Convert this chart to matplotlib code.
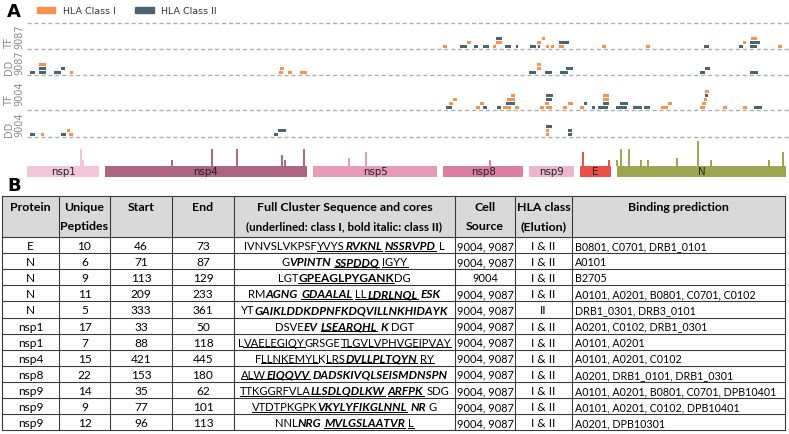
# Figure: peptide clusters along SARS-CoV-2 proteins (A) + cluster table (B)
import matplotlib.pyplot as plt
from matplotlib.patches import Patch, Rectangle

plt.rcParams['font.family'] = 'DejaVu Sans'

W, H = 789, 435
orange = '#f6944f'
slate = '#4a6472'

# %%
# Panel A data: clusters per track as (start, end, stack level, HLA class)
track_labels = ['TF\n9087', 'DD\n9087', 'TF\n9004', 'DD\n9004']

tf9087 = [(443, 447, 0, 1), (460, 467, 0, 2), (474, 478, 0, 2), (483, 489, 0, 2),
          (493, 496, 0, 1), (505, 511, 0, 2), (516, 518, 0, 2), (530, 536, 0, 2),
          (538, 540, 0, 2), (546, 549, 0, 1), (551, 554, 0, 1), (559, 564, 0, 1),
          (602, 606, 0, 1), (646, 650, 0, 1), (704, 709, 0, 2), (739, 743, 0, 2),
          (750, 757, 0, 2), (778, 782, 0, 1),
          (467, 471, 1, 1), (496, 502, 1, 1), (537, 541, 1, 1), (559, 569, 1, 2),
          (743, 746, 1, 1), (750, 760, 1, 2),
          (496, 502, 2, 2), (542, 545, 2, 1), (751, 757, 2, 1)]

dd9087 = [(30, 35, 0, 2), (39, 46, 0, 2), (54, 61, 0, 2), (70, 73, 0, 1),
          (279, 283, 0, 1), (288, 292, 0, 1), (300, 307, 0, 1), (529, 536, 0, 2),
          (545, 552, 0, 2), (560, 568, 0, 2), (700, 705, 0, 2), (750, 758, 0, 2),
          (39, 46, 1, 2), (61, 65, 1, 2), (280, 284, 1, 1), (537, 541, 1, 1),
          (566, 573, 1, 2), (705, 710, 1, 2),
          (39, 46, 2, 1), (537, 541, 2, 1)]

tf9004 = [(446, 452, 0, 2), (476, 480, 0, 1), (483, 487, 0, 2), (497, 501, 0, 2),
          (503, 511, 0, 1), (515, 519, 0, 1), (540, 544, 0, 1), (546, 552, 0, 1),
          (563, 567, 0, 1), (580, 584, 0, 1), (592, 595, 0, 2), (598, 608, 0, 2),
          (616, 627, 0, 2), (633, 642, 0, 2), (644, 650, 0, 2), (661, 668, 0, 1),
          (700, 705, 0, 1), (723, 727, 0, 1), (743, 747, 0, 1), (754, 762, 0, 2),
          (449, 453, 1, 1), (480, 484, 1, 1), (506, 515, 1, 2), (545, 549, 1, 1),
          (568, 573, 1, 1), (584, 587, 1, 2), (603, 609, 1, 2), (620, 628, 1, 2),
          (668, 672, 1, 1), (702, 706, 1, 1),
          (453, 457, 2, 1), (507, 515, 2, 1), (546, 552, 2, 2), (603, 609, 2, 1),
          (704, 707, 2, 1),
          (511, 515, 3, 1), (546, 553, 3, 2), (603, 609, 3, 1), (705, 708, 3, 2),
          (705, 709, 4, 1)]

dd9004 = [(30, 35, 0, 2), (41, 44, 0, 1), (61, 66, 0, 2), (69, 73, 0, 1),
          (274, 278, 0, 2), (546, 549, 0, 1), (568, 572, 0, 2),
          (67, 70, 1, 1), (278, 286, 1, 2), (546, 549, 1, 1), (568, 572, 1, 2),
          (546, 552, 2, 2)]

tracks = [tf9087, dd9087, tf9004, dd9004]

# protein blocks along the same axis and the hit counts (spikes)
prot_names = ['nsp1', 'nsp4', 'nsp5', 'nsp8', 'nsp9', 'E', 'N']
prot_start = [27, 105, 313, 443, 529, 580, 617]
prot_end = [99, 307, 437, 523, 574, 611, 786]
prot_colors = ['#f2c6d6', '#ad6580', '#e59bb6', '#db7fa1', '#ecb6cc', '#e8504a', '#9ba650']
spike_pos = [81, 83, 172, 212, 237, 282, 285, 304, 349, 366, 490, 583, 609,
             617, 621, 629, 641, 648, 677, 698, 711, 769, 783]
spike_cnt = [6, 2, 2, 6, 6, 4, 2, 6, 3, 5, 2, 5, 2,
             2, 6, 6, 2, 2, 3, 9, 2, 2, 5]

# %%
# Panel B data
hdr = ['Protein', 'Unique\nPeptides', 'Start', 'End',
       'Full Cluster Sequence and cores\n(underlined: class I, bold italic: class II)',
       'Cell\nSource', 'HLA class\n(Elution)', 'Binding prediction']
protein = ['E', 'N', 'N', 'N', 'N', 'nsp1', 'nsp1', 'nsp4', 'nsp8', 'nsp9', 'nsp9', 'nsp9']
unique_pep = [10, 6, 9, 11, 5, 17, 7, 15, 22, 14, 9, 12]
start = [46, 71, 113, 209, 333, 33, 88, 421, 153, 35, 77, 96]
end = [73, 87, 129, 233, 361, 50, 118, 445, 180, 62, 101, 113]
cell_source = ['9004, 9087', '9004, 9087', '9004'] + ['9004, 9087'] * 9
hla_class = ['I & II'] * 4 + ['II'] + ['I & II'] * 7
binding = ['B0801, C0701, DRB1_0101', 'A0101', 'B2705',
           'A0101, A0201, B0801, C0701, C0102', 'DRB1_0301, DRB3_0101',
           'A0201, C0102, DRB1_0301', 'A0101, A0201', 'A0101, A0201, C0102',
           'A0201, DRB1_0101, DRB1_0301', 'A0101, A0201, B0801, C0701, DPB10401',
           'A0101, A0201, C0102, DPB10401', 'A0201, DPB10301']
# sequence pieces: u = underlined (class I core), b/i = bold/italic (class II core)
sequences = [
    [('IVNVSLVKPSF', ''), ('YVYS', 'u'), ('RVKNL', 'biu'), (' ', ''), ('NSSRVPD', 'biu'), (' ', ''), ('L', '')],
    [('G', ''), ('VPINTN', 'bi'), (' ', ''), ('SSPDDQ', 'biu'), (' ', ''), ('IGYY', 'u')],
    [('LGT', ''), ('GPEAGLPYGANK', 'bu'), ('DG', '')],
    [('RM', ''), ('AGNG', 'bi'), (' ', ''), ('GDAALAL', 'biu'), (' ', ''), ('LL', 'u'),
     ('LDRLNQL', 'biu'), (' ', ''), ('ESK', 'bi')],
    [('YT', ''), ('GAIKLDDKDPNFKDQVILLNKHIDAYK', 'bi')],
    [('DSVE', ''), ('EV', 'bi'), (' ', ''), ('LSEARQHL', 'biu'), (' ', ''), ('K', 'bi'), (' ', ''), ('DGT', '')],
    [('L', ''), ('VAELEGIQY', 'u'), ('GRSGE', ''), ('TLGVLVPHVGEIPVAY', 'u')],
    [('F', ''), ('LLNKEMYL', 'u'), ('K', ''), ('LRS', 'u'), ('DVLLPLTQYN', 'biu'), (' ', ''), ('RY', 'u')],
    [('ALW', 'u'), ('EIQQVV', 'biu'), (' ', ''), ('DADSKIVQLSEISMDNSPN', 'bi')],
    [('TTKGGRFVLA', 'u'), ('LLSDLQDLKW', 'biu'), (' ', ''), ('ARFPK', 'biu'), (' ', ''), ('SDG', '')],
    [('VTDTPKGPK', 'u'), ('VKYLYFIKGLNNL', 'biu'), (' ', ''), ('NR', 'bi'), (' ', ''), ('G', '')],
    [('NNL', ''), ('NRG', 'bi'), (' ', ''), ('MVLGSLAATVR', 'biu'), (' ', ''), ('L', 'u')],
]

# %%
fig = plt.figure(figsize=(W / 100, H / 100), dpi=100)
tax = fig.add_axes([0, 0, 1, 1])
tax.set_xlim(0, W)
tax.set_ylim(H, 0)
tax.axis('off')


def px_axes(x0, y0, x1, y1):
    ax = fig.add_axes([x0 / W, 1 - y1 / H, (x1 - x0) / W, (y1 - y0) / H])
    ax.patch.set_alpha(0)
    ax.axis('off')
    return ax


tax.text(7, 12, 'A', fontsize=13, fontweight='bold', va='center', ha='left')
tax.text(7, 186, 'B', fontsize=13, fontweight='bold', va='center', ha='left')

fig.legend(handles=[Patch(color=orange, label='HLA Class I'),
                    Patch(color=slate, label='HLA Class II')],
           loc='center left', bbox_to_anchor=(28 / W, 1 - 12 / H), ncol=2,
           frameon=False, fontsize=6.8, handlelength=2.0, handleheight=0.55,
           columnspacing=2.0, handletextpad=0.8, labelcolor='#333333')

row_top = [24, 50, 76, 111]
row_bot = [50, 76, 111, 138]
for i, data in enumerate(tracks):
    ax = px_axes(27, row_top[i], 789, row_bot[i])
    ax.set_xlim(27, 789)
    ax.set_ylim(0, row_bot[i] - row_top[i])
    for s, e, lvl, cls in data:
        ax.barh(3 + 4 * lvl, e - s, left=s, height=3,
                color=orange if cls == 1 else slate, linewidth=0)
    ax.axhline(0, color='#b0b0b0', lw=1, ls=(0, (3, 2)), clip_on=False)
    if i == 0:
        ax.axhline(row_bot[i] - row_top[i], color='#b0b0b0', lw=1, ls=(0, (3, 2)), clip_on=False)
    tax.text(14, (row_top[i] + row_bot[i]) / 2, track_labels[i], rotation=90,
             ha='center', va='center', multialignment='left', fontsize=7,
             color='#8a8a8a', linespacing=1.0)

pax = px_axes(27, 141, 789, 178)
pax.set_xlim(27, 789)
pax.set_ylim(-3.9, 9.2)
for name, s, e, c in zip(prot_names, prot_start, prot_end, prot_colors):
    pax.bar(s, 3.9, width=e - s, bottom=-3.9, align='edge', color=c, linewidth=0)
    pax.text((s + e) / 2, -1.95, name, ha='center', va='center', fontsize=7.4, color='#222222')
for x, n in zip(spike_pos, spike_cnt):
    c = prot_colors[0]
    for s, e, pc in zip(prot_start, prot_end, prot_colors):
        if s <= x <= e:
            c = pc
    pax.vlines(x, 0, n, color=c, lw=1.4)

# %%
# Panel B: the table
tfont = 'Lato'
fs = 8.6        # plain cells
fs_seq = 8.1    # plain sequence letters
fs_bi = 8.6     # bold italic cores
fs_cell = 7.9
fs_bind = 7.7
cols = [2, 59, 110, 172, 234, 455, 515, 572, 785]
h_top, h_bot, row_h = 197, 238, 16.1
nrow = len(protein)
t_bot = h_bot + nrow * row_h

tax.add_patch(Rectangle((cols[0], h_top), cols[-1] - cols[0], h_bot - h_top,
                        facecolor='#d9d9d9', edgecolor='none'))
for y in [h_top, h_bot] + [h_bot + row_h * (k + 1) for k in range(nrow)]:
    tax.plot([cols[0], cols[-1]], [y, y], color='#3a3a3a', lw=0.8)
for x in cols:
    tax.plot([x, x], [h_top, t_bot], color='#3a3a3a', lw=0.8)

for j, text in enumerate(hdr):
    xc = (cols[j] + cols[j + 1]) / 2
    for k, line in enumerate(text.split('\n')):
        tax.text(xc, 208 + 19 * k, line, ha='center', va='center',
                 fontsize=fs + 0.3 if k == 0 or j != 4 else fs - 0.2,
                 fontweight='bold', family=tfont)

fig.canvas.draw()
rend = fig.canvas.get_renderer()


def width_of(s, size, weight='normal', style='normal'):
    t = tax.text(0, 0, s, fontsize=size, fontweight=weight, fontstyle=style, family=tfont)
    w = t.get_window_extent(rend).width
    t.remove()
    return w


space_w = width_of('A A', fs_seq) - width_of('AA', fs_seq)

for i in range(nrow):
    yb = h_bot + row_h * i + row_h / 2 + 4.0
    vals = [protein[i], unique_pep[i], start[i], end[i]]
    for j, v in enumerate(vals):
        tax.text((cols[j] + cols[j + 1]) / 2, yb, str(v), ha='center', va='baseline',
                 fontsize=fs, family=tfont)
    tax.text((cols[5] + cols[6]) / 2, yb, cell_source[i], ha='center', va='baseline',
             fontsize=fs_cell, family=tfont)
    tax.text((cols[6] + cols[7]) / 2, yb, hla_class[i], ha='center', va='baseline',
             fontsize=fs, family=tfont)
    tax.text(cols[7] + 3, yb, binding[i], ha='left', va='baseline', fontsize=fs_bind,
             family=tfont)

    # styled sequence, centred in its column
    pieces = []
    for txt, st in sequences[i]:
        wt = 'bold' if 'b' in st else 'normal'
        sl = 'italic' if 'i' in st else 'normal'
        sz = fs_bi if 'b' in st else fs_seq
        w = space_w if txt == ' ' else width_of(txt, sz, wt, sl) + 0.2
        pieces.append((txt, wt, sl, sz, 'u' in st, w))
    total = sum(p[5] for p in pieces)
    x = (cols[4] + cols[5]) / 2 - total / 2
    for txt, wt, sl, sz, ul, w in pieces:
        if txt != ' ':
            tax.text(x, yb, txt, ha='left', va='baseline', fontsize=sz, fontweight=wt,
                     fontstyle=sl, family=tfont)
        if ul:
            tax.plot([x, x + w], [yb + 1.6, yb + 1.6], color='black', lw=0.7)
        x += w

fig.savefig('out.png', dpi=100)
